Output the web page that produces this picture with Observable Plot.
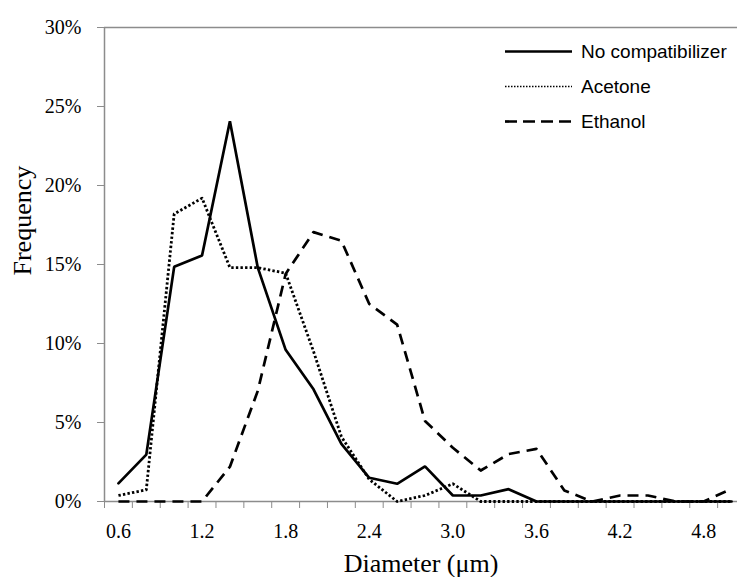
<!DOCTYPE html>
<html>
<head>
<meta charset="utf-8">
<script src="https://cdn.jsdelivr.net/npm/d3@7"></script>
<script src="https://cdn.jsdelivr.net/npm/@observablehq/plot@0.6"></script>
<style>
  html, body { margin: 0; padding: 0; background: #fff; }
  #wrap { position: relative; width: 737px; height: 577px; }
  #legend { position: absolute; left: 0; top: 0; }
</style>
</head>
<body>
<div id="wrap"></div>
<script>
// Categories (diameter, µm)
const diameters = [0.6, 0.8, 1.0, 1.2, 1.4, 1.6, 1.8, 2.0, 2.2, 2.4, 2.6, 2.8, 3.0, 3.2, 3.4, 3.6, 3.8, 4.0, 4.2, 4.4, 4.6, 4.8, 5.0];
// Frequencies (%)
const noCompatibilizer = [1.15, 2.97, 14.85, 15.57, 24.07, 14.8, 9.6, 7.1, 3.65, 1.5, 1.12, 2.22, 0.38, 0.38, 0.78, 0, 0, 0, 0, 0, 0, 0, 0];
const acetone = [0.38, 0.74, 18.2, 19.2, 14.8, 14.8, 14.45, 9.5, 4.1, 1.4, 0, 0.38, 1.12, 0, 0, 0, 0, 0, 0, 0, 0, 0, 0];
const ethanol = [0, 0, 0, 0, 2.2, 7.0, 14.4, 17.05, 16.5, 12.5, 11.2, 5.1, 3.4, 1.96, 3.0, 3.33, 0.7, 0, 0.38, 0.38, 0, 0, 0.8];
// Axis ticks / labels
const yTicks = [0, 0.05, 0.10, 0.15, 0.20, 0.25, 0.30];
const xTickMarks = [0.5, 0.7, 0.9, 1.1, 1.3, 1.5, 1.7, 1.9, 2.1, 2.3, 2.5, 2.7, 2.9, 3.1, 3.3, 3.5, 3.7, 3.9, 4.1, 4.3, 4.5, 4.7, 4.9];
const xTickLabels = [0.6, 1.2, 1.8, 2.4, 3.0, 3.6, 4.2, 4.8];
const seriesNames = ["No compatibilizer", "Acetone", "Ethanol"];

const toRows = (vals) => diameters.map((d, i) => ({x: d, y: vals[i] / 100}));
const rowsNone = toRows(noCompatibilizer);
const rowsAcetone = toRows(acetone);
const rowsEthanol = toRows(ethanol);

const gray = "#8c8c8c";

const chart = Plot.plot({
  width: 737,
  height: 577,
  marginLeft: 104,
  marginRight: 0,
  marginTop: 27,
  marginBottom: 76,
  x: {domain: [0.5, 5.1], range: [104, 745]},
  y: {domain: [0, 0.3]},
  style: {fontFamily: "'Liberation Serif', serif", background: "#fff", color: "#000"},
  marks: [
    Plot.ruleY([0.3], {stroke: gray, strokeWidth: 1.5}),
    Plot.axisY({ticks: yTicks, tickFormat: d3.format(".0%"), tickSize: 7, tickPadding: 16, stroke: gray, fill: "#000", fontSize: 20, label: null}),
    Plot.axisX({ticks: xTickMarks, tickSize: 7, tickFormat: () => "", stroke: gray, label: null}),
    Plot.axisX({ticks: xTickLabels, tickSize: 0, tickPadding: 22, tickFormat: d3.format(".1f"), fill: "#000", fontSize: 20, label: null}),
    Plot.ruleX([0.5], {stroke: gray, strokeWidth: 1.5}),
    Plot.ruleY([0], {stroke: gray, strokeWidth: 1.5}),
    Plot.line(rowsNone, {x: "x", y: "y", stroke: "#000", strokeWidth: 2.7, strokeLinejoin: "miter"}),
    Plot.line(rowsAcetone, {x: "x", y: "y", stroke: "#000", strokeWidth: 2.8, strokeDasharray: "2.4 2.2", strokeLinecap: "butt"}),
    Plot.line(rowsEthanol, {x: "x", y: "y", stroke: "#000", strokeWidth: 2.7, strokeDasharray: "11 7", strokeLinecap: "butt"}),
    Plot.text(["Diameter (μm)"], {frameAnchor: "bottom", lineAnchor: "middle", dy: 62, fontSize: 26, fill: "#000"}),
    Plot.text(["Frequency"], {frameAnchor: "left", lineAnchor: "middle", rotate: -90, dx: -82, dy: 11, fontSize: 26, fill: "#000"})
  ]
});

const wrap = document.getElementById("wrap");
wrap.appendChild(chart);

// Legend overlay
const ns = "http://www.w3.org/2000/svg";
const leg = document.createElementNS(ns, "svg");
leg.setAttribute("id", "legend");
leg.setAttribute("width", 737);
leg.setAttribute("height", 577);
leg.style.pointerEvents = "none";
const legendDash = [null, "1.5 1.5", "12 6"];
const legendWidth = [2.7, 1.6, 2.7];
seriesNames.forEach((name, i) => {
  const y = 51.5 + i * 35;
  const ln = document.createElementNS(ns, "line");
  ln.setAttribute("x1", 505); ln.setAttribute("x2", 572);
  ln.setAttribute("y1", y); ln.setAttribute("y2", y);
  ln.setAttribute("stroke", "#000");
  ln.setAttribute("stroke-width", legendWidth[i]);
  if (legendDash[i]) ln.setAttribute("stroke-dasharray", legendDash[i]);
  leg.appendChild(ln);
  const t = document.createElementNS(ns, "text");
  t.setAttribute("x", 581);
  t.setAttribute("y", y);
  t.setAttribute("dy", "0.35em");
  t.setAttribute("font-family", "'Liberation Sans', Arial, sans-serif");
  t.setAttribute("font-size", 19);
  t.setAttribute("fill", "#000");
  t.textContent = name;
  leg.appendChild(t);
});
wrap.appendChild(leg);
</script>
</body>
</html>
